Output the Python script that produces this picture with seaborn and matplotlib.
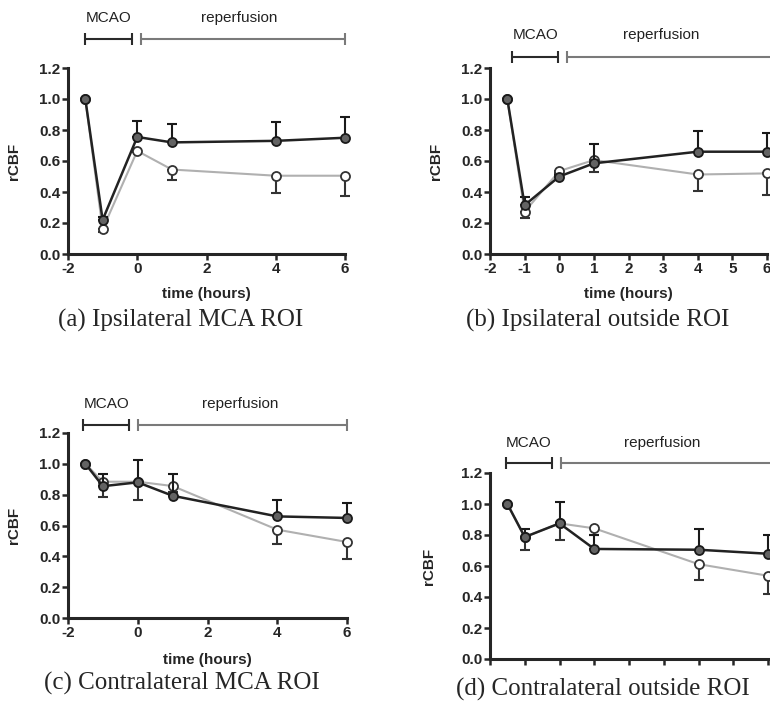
import numpy as np
import pandas as pd
import matplotlib
matplotlib.use("Agg")
import matplotlib.pyplot as plt
import matplotlib.transforms as mtransforms
import seaborn as sns

# time points (hours)
time = [-1.5, -1, 0, 1, 4, 6]

# (a) Ipsilateral MCA ROI
a_dark = [1.0, 0.22, 0.755, 0.72, 0.73, 0.75]
a_dark_hi = [0, 0.02, 0.10, 0.12, 0.12, 0.135]
a_light = [1.0, 0.16, 0.665, 0.545, 0.505, 0.505]
a_light_lo = [0, 0.02, 0.01, 0.065, 0.11, 0.13]

# (b) Ipsilateral outside ROI
b_dark = [1.0, 0.315, 0.50, 0.585, 0.66, 0.66]
b_dark_hi = [0, 0.055, 0.01, 0.125, 0.135, 0.12]
b_light = [1.0, 0.273, 0.535, 0.606, 0.513, 0.52]
b_light_lo = [0, 0.04, 0.01, 0.08, 0.107, 0.137]

# (c) Contralateral MCA ROI
c_dark = [1.0, 0.855, 0.88, 0.793, 0.659, 0.649]
c_dark_hi = [0, 0.08, 0.145, 0.14, 0.108, 0.097]
c_light = [1.0, 0.884, 0.884, 0.856, 0.573, 0.493]
c_light_lo = [0, 0.10, 0.12, 0.04, 0.093, 0.108]

# (d) Contralateral outside ROI
d_dark = [1.0, 0.787, 0.875, 0.71, 0.705, 0.679]
d_dark_hi = [0, 0.052, 0.14, 0.09, 0.133, 0.121]
d_light = [1.0, 0.787, 0.875, 0.843, 0.612, 0.537]
d_light_lo = [0, 0.085, 0.107, 0.04, 0.10, 0.117]

captions = ["(a) Ipsilateral MCA ROI", "(b) Ipsilateral outside ROI",
            "(c) Contralateral MCA ROI", "(d) Contralateral outside ROI"]

# MCAO / reperfusion bracket spans per panel (hours)
mcao_spans = [(-1.5, -0.15), (-1.36, -0.03), (-1.56, -0.24), (-1.54, -0.22)]
reperf_spans = [(0.1, 6.0), (0.22, 7.0), (0.0, 6.0), (0.03, 7.0)]

sns.set_style("ticks")
plt.rcParams['font.family'] = ['Liberation Sans', 'DejaVu Sans']
plt.rcParams['axes.unicode_minus'] = False

fig = plt.figure(figsize=(7.7, 7.07), dpi=100)

# axes rectangles in figure fraction
rects = [
    (68 / 770, 1 - 254 / 707, 277 / 770, 186 / 707),
    (490 / 770, 1 - 254 / 707, 277 / 770, 186 / 707),
    (68 / 770, 1 - 618 / 707, 279 / 770, 185 / 707),
    (490 / 770, 1 - 659 / 707, 278 / 770, 186 / 707),
]
panels = [
    (a_dark, a_dark_hi, a_light, a_light_lo),
    (b_dark, b_dark_hi, b_light, b_light_lo),
    (c_dark, c_dark_hi, c_light, c_light_lo),
    (d_dark, d_dark_hi, d_light, d_light_lo),
]
bracket_y = [1.156, 1.059, 1.043, 1.054]
label_y = [1.269, 1.177, 1.157, 1.161]
ylabel_x = [-0.17, -0.17, -0.17, -0.195]
xlabel_y = [-0.177, -0.177, -0.189, None]
caption_pos = [(181, 320), (598, 320), (182, 683), (603, 689)]

for i, (rect, (dk, dk_hi, lt, lt_lo)) in enumerate(zip(rects, panels)):
    ax = fig.add_axes(rect)
    df = pd.DataFrame({"time": time, "dark": dk, "light": lt})

    # light (open circles) series
    ax.errorbar(time, lt, yerr=[lt_lo, np.zeros(len(lt))], fmt='none',
                ecolor='#333333', elinewidth=1.5, capsize=3.5, capthick=1.5,
                zorder=2, clip_on=False)
    sns.lineplot(data=df, x="time", y="light", ax=ax, color='#b0b0b0',
                 linewidth=1.5, marker='o', markersize=6.5,
                 markerfacecolor='white', markeredgecolor='#333333',
                 markeredgewidth=1.3, zorder=3, clip_on=False)
    # dark (filled circles) series
    ax.errorbar(time, dk, yerr=[np.zeros(len(dk)), dk_hi], fmt='none',
                ecolor='#1a1a1a', elinewidth=1.5, capsize=3.5, capthick=1.5,
                zorder=4, clip_on=False)
    sns.lineplot(data=df, x="time", y="dark", ax=ax, color='#222222',
                 linewidth=1.8, marker='o', markersize=6.5,
                 markerfacecolor='#636363', markeredgecolor='#1a1a1a',
                 markeredgewidth=1.3, zorder=5, clip_on=False)

    ax.set_xlim(-2, 6)
    ax.set_ylim(0, 1.2)
    ax.set_yticks(np.arange(0, 1.21, 0.2))
    ax.set_yticklabels([f"{v:.1f}" for v in np.arange(0, 1.21, 0.2)])
    if i in (0, 2):
        ax.set_xticks([-2, 0, 2, 4, 6])
    else:
        ax.set_xticks(range(-2, 7))

    sns.despine(ax=ax)
    for s in ("left", "bottom"):
        ax.spines[s].set_linewidth(2.2)
    ax.tick_params(width=1.8, length=4, labelsize=11, pad=1.5)
    for lab in ax.get_xticklabels() + ax.get_yticklabels():
        lab.set_fontweight('bold')

    ax.set_ylabel("rCBF", fontsize=11, fontweight='bold')
    ax.yaxis.set_label_coords(ylabel_x[i], 0.5)
    if i == 3:
        ax.set_xticklabels([])
        ax.set_xlabel("")
    else:
        ax.set_xlabel("time (hours)", fontsize=11, fontweight='bold')
        ax.xaxis.set_label_coords(0.5, xlabel_y[i])

    # MCAO / reperfusion brackets above the plot
    trans = mtransforms.blended_transform_factory(ax.transData, ax.transAxes)
    for (x0, x1), col in ((mcao_spans[i], '#2a2a2a'), (reperf_spans[i], '#7a7a7a')):
        ax.plot([x0, x1], [bracket_y[i], bracket_y[i]], color=col, lw=1.5,
                transform=trans, clip_on=False)
        ax.plot([x0, x1], [bracket_y[i], bracket_y[i]], color=col, lw=0,
                marker='|', markersize=8, markeredgewidth=1.5,
                transform=trans, clip_on=False)
    m0, m1 = mcao_spans[i]
    ax.text((m0 + m1) / 2, label_y[i], "MCAO", transform=trans,
            ha='center', va='center', fontsize=11, color='#222222')
    ax.text(2.95, label_y[i], "reperfusion", transform=trans,
            ha='center', va='center', fontsize=11, color='#222222')

    cx, cy = caption_pos[i]
    fig.text(cx / 770, 1 - cy / 707, captions[i], ha='center', va='center',
             fontsize=18, family=['Liberation Serif', 'DejaVu Serif'])

fig.savefig("out.png", dpi=100)
